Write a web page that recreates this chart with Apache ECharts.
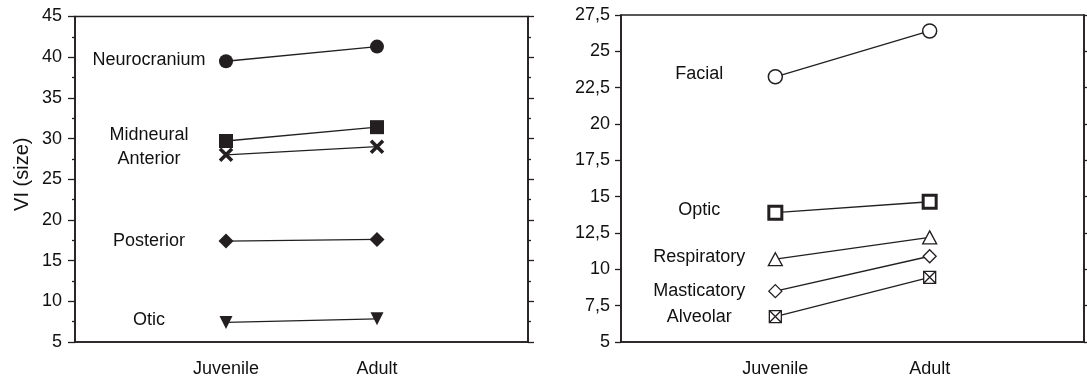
<!DOCTYPE html>
<html>
<head>
<meta charset="utf-8">
<script src="https://cdn.jsdelivr.net/npm/echarts@6/dist/echarts.min.js"></script>
<style>
html,body{margin:0;padding:0;background:#fff;}
#chart{width:1087px;height:378px;}
</style>
</head>
<body>
<div id="chart"></div>
<script>
// ---- data ----
const categories = ['Juvenile', 'Adult'];
// left panel (VI size)
const neurocranium = [39.5, 41.3];
const midneural = [29.7, 31.4];
const anterior = [28.0, 29.0];
const posterior = [17.4, 17.6];
const otic = [7.4, 7.85];
// right panel
const facial = [23.25, 26.4];
const optic = [13.9, 14.65];
const respiratory = [10.7, 12.2];
const masticatory = [8.5, 10.9];
const alveolar = [6.75, 9.45];
const yAxisName = 'VI (size)';

const INK = '#231f20';
const FONT = 'Liberation Sans, Arial, sans-serif';

function mk(name, vals, grid, sym, opts) {
  const data = vals.map((v, i) => {
    const item = { value: [i + 1, v] };
    if (i === 0) {
      item.label = {
        show: true, formatter: name, position: 'inside',
        offset: opts.lab, align: 'center', verticalAlign: 'middle',
        color: '#111', fontSize: 18, fontFamily: FONT
      };
    }
    return item;
  });
  return {
    type: 'line', name: name, xAxisIndex: grid, yAxisIndex: grid === 0 ? 0 : 2,
    data: data, symbol: sym, symbolSize: opts.size, symbolRotate: opts.rot || 0,
    symbolKeepAspect: false,
    lineStyle: { color: INK, width: 1.3 },
    itemStyle: { color: opts.fill, borderColor: INK, borderWidth: opts.bw || 0 },
    emphasis: { disabled: true }, z: 3
  };
}

const axisLineStyle = { lineStyle: { color: INK, width: 1.6 } };
const labelStyle = { color: '#111', fontSize: 18, fontFamily: FONT };

function xAx(g) {
  return {
    type: 'value', gridIndex: g, min: 0, max: 3, interval: 1,
    axisLine: axisLineStyle, axisTick: { show: false }, splitLine: { show: false },
    axisLabel: {
      color: '#111', fontSize: 18, fontFamily: FONT, margin: 18,
      formatter: v => categories[v - 1] || ''
    }
  };
}

const option = {
  animation: false,
  backgroundColor: '#fff',
  grid: [
    { left: 75, right: 559, top: 16.5, bottom: 36, show: true, borderColor: INK, borderWidth: 1.6, backgroundColor: 'transparent' },
    { left: 621, right: 3, top: 15, bottom: 36, show: true, borderColor: INK, borderWidth: 1.6, backgroundColor: 'transparent' }
  ],
  xAxis: [xAx(0), xAx(1)],
  yAxis: [
    {
      type: 'value', gridIndex: 0, position: 'left', min: 5, max: 45, interval: 5,
      axisLine: { show: true, lineStyle: { color: INK, width: 1.6 } },
      axisTick: { show: true, length: 7, lineStyle: { color: INK, width: 1.3 } },
      minorTick: { show: true, splitNumber: 2, length: 3, lineStyle: { color: INK, width: 1.3 } },
      splitLine: { show: false },
      axisLabel: Object.assign({ margin: 13 }, labelStyle),
      name: yAxisName, nameLocation: 'middle', nameGap: 43, nameMoveOverlap: false,
      nameTextStyle: { color: '#111', fontSize: 20, fontFamily: FONT, padding: [0, 0, 0, 10] }
    },
    {
      type: 'value', gridIndex: 0, position: 'right', min: 5, max: 45, interval: 5,
      axisLine: { show: true, lineStyle: { color: INK, width: 1.6 } },
      axisTick: { show: true, length: 6, lineStyle: { color: INK, width: 1.3 } },
      minorTick: { show: true, splitNumber: 2, length: 3, lineStyle: { color: INK, width: 1.3 } },
      splitLine: { show: false }, axisLabel: { show: false }
    },
    {
      type: 'value', gridIndex: 1, position: 'left', min: 5, max: 27.5, interval: 2.5,
      axisLine: { show: true, lineStyle: { color: INK, width: 1.6 } },
      axisTick: { show: true, length: 6, lineStyle: { color: INK, width: 1.3 } },
      splitLine: { show: false },
      axisLabel: Object.assign({ margin: 11, formatter: v => String(v).replace('.', ',') }, labelStyle)
    },
    {
      type: 'value', gridIndex: 1, position: 'right', min: 5, max: 27.5, interval: 2.5,
      axisLine: { show: true, lineStyle: { color: INK, width: 1.6 } },
      axisTick: { show: true, length: 3, lineStyle: { color: INK, width: 1.3 } },
      splitLine: { show: false }, axisLabel: { show: false }
    }
  ],
  series: [
    mk('Neurocranium', neurocranium, 0, 'circle', { size: 14, fill: INK, lab: [-77, -1] }),
    mk('Midneural', midneural, 0, 'rect', { size: 14, fill: INK, lab: [-77, -6] }),
    mk('Anterior', anterior, 0, 'path://M0,0 L10,10 M10,0 L0,10', { size: 12, fill: INK, bw: 3.6, lab: [-77, 4] }),
    mk('Posterior', posterior, 0, 'diamond', { size: [15, 15], fill: INK, lab: [-77, 0] }),
    mk('Otic', otic, 0, 'triangle', { size: [13, 13], fill: INK, rot: 180, lab: [-77, -2] }),
    mk('Facial', facial, 1, 'circle', { size: 14, fill: '#fff', bw: 1.5, lab: [-76, -3] }),
    mk('Optic', optic, 1, 'rect', { size: 13, fill: '#fff', bw: 3, lab: [-76, -3] }),
    mk('Respiratory', respiratory, 1, 'triangle', { size: [14, 13], fill: '#fff', bw: 1.3, lab: [-76, -2] }),
    mk('Masticatory', masticatory, 1, 'diamond', { size: [13, 13], fill: '#fff', bw: 1.3, lab: [-76, 0] }),
    mk('Alveolar', alveolar, 1, 'path://M0,0 L10,0 L10,10 L0,10 Z M0,0 L10,10 M10,0 L0,10', { size: 12, fill: '#fff', bw: 1.3, lab: [-76, 0] })
  ]
};

const chart = echarts.init(document.getElementById('chart'), null, { renderer: 'canvas' });
chart.setOption(option);
</script>
</body>
</html>
